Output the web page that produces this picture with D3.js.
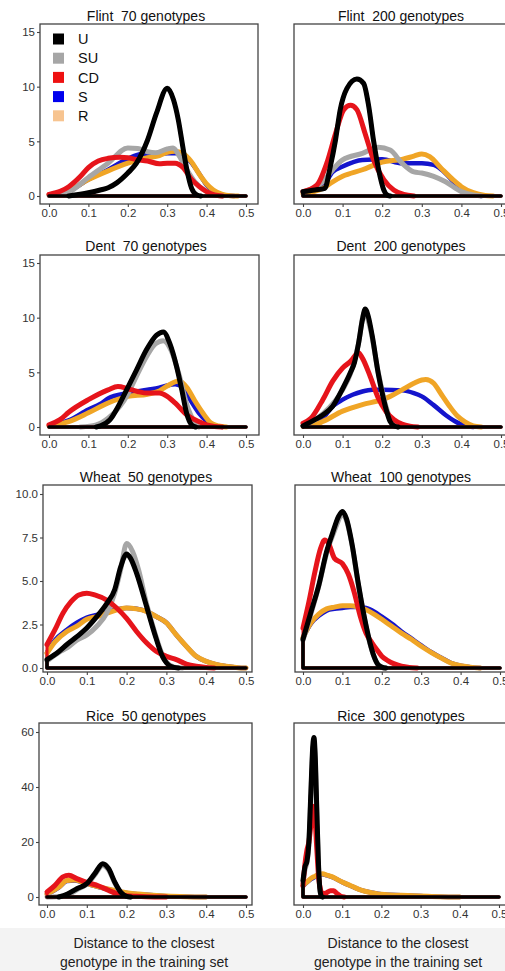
<!DOCTYPE html>
<html>
<head>
<meta charset="utf-8">
<script src="https://cdn.jsdelivr.net/npm/d3@7"></script>
<style>
  body { margin: 0; background: #fff; }
  svg { display: block; font-family: "Liberation Sans", Arial, sans-serif; }
</style>
</head>
<body>
<svg id="chart" width="505" height="971"></svg>
<script>
// ---- series and tick definitions ----
const seriesKeys = ["U", "SU", "CD", "S", "R"];
const drawOrder = ["S", "R", "SU", "CD", "U"];
const lineColors = { U: "#000000", SU: "#a6a6a6", CD: "#e6141b", S: "#1414cc", R: "#f0a526" };
const legendColors = { U: "#000000", SU: "#a6a6a6", CD: "#ee1111", S: "#0000ee", R: "#f7c490" };

const xTicks = [0, 0.1, 0.2, 0.3, 0.4, 0.5];
const yTicksMaize = [0, 5, 10, 15];
const yTicksWheat = [0, 2.5, 5, 7.5, 10];
const yTicksRice = [0, 20, 40, 60];

const panelTitles = [
  "Flint  70 genotypes", "Flint  200 genotypes",
  "Dent  70 genotypes", "Dent  200 genotypes",
  "Wheat  50 genotypes", "Wheat  100 genotypes",
  "Rice  50 genotypes", "Rice  300 genotypes"
];
const axisTitleLines = ["Distance to the closest", "genotype in the training set"];

// ---- density curves: [distance, density] ----
// Flint, 70 genotypes
const flint70_U = [[0,0],[0.05,0],[0.1,0.3],[0.13,0.55],[0.15,0.75],[0.172,1.2],[0.2,2.1],[0.222,3.0],[0.25,5.1],[0.273,7.6],[0.3,9.85],[0.316,8.8],[0.328,7.0],[0.341,4.2],[0.35,2.4],[0.362,0.7],[0.375,0.1],[0.385,0],[0.5,0]];
const flint70_SU = [[0,0.05],[0.03,0.15],[0.05,0.35],[0.1,1.7],[0.15,3.0],[0.2,4.4],[0.225,4.35],[0.25,4.05],[0.27,3.95],[0.3,4.3],[0.315,4.4],[0.33,3.7],[0.35,2.4],[0.37,1.3],[0.4,0.4],[0.42,0.08],[0.44,0],[0.5,0]];
const flint70_CD = [[0,0.15],[0.03,0.45],[0.05,0.85],[0.08,1.8],[0.1,2.6],[0.125,3.2],[0.15,3.45],[0.18,3.55],[0.2,3.5],[0.22,3.35],[0.25,3.2],[0.28,2.95],[0.3,3.0],[0.32,3.0],[0.34,2.6],[0.36,1.6],[0.38,0.9],[0.4,0.4],[0.42,0.1],[0.44,0],[0.5,0]];
const flint70_S = [[0,0.1],[0.05,0.45],[0.1,1.5],[0.15,2.4],[0.2,3.4],[0.235,3.85],[0.26,3.8],[0.3,3.9],[0.33,3.9],[0.36,3.1],[0.38,2.1],[0.4,1.0],[0.42,0.35],[0.45,0.05],[0.47,0],[0.5,0]];
const flint70_R = [[0,0.1],[0.05,0.5],[0.1,1.5],[0.15,2.3],[0.2,3.0],[0.25,3.5],[0.28,3.7],[0.3,4.0],[0.32,4.1],[0.34,3.9],[0.36,3.2],[0.385,1.8],[0.4,1.1],[0.417,0.55],[0.44,0.15],[0.46,0.03],[0.48,0],[0.5,0]];

// Flint, 200 genotypes
const flint200_U = [[0,0.4],[0.03,0.55],[0.055,0.7],[0.069,2.7],[0.082,5.1],[0.094,7.9],[0.111,9.85],[0.136,10.7],[0.153,10.3],[0.166,8.2],[0.178,5.1],[0.191,2.4],[0.204,0.55],[0.212,0.1],[0.22,0],[0.5,0]];
const flint200_SU = [[0,0.4],[0.05,1.3],[0.075,2.4],[0.1,3.3],[0.15,3.9],[0.19,4.45],[0.22,4.2],[0.25,3.0],[0.28,2.2],[0.3,2.1],[0.33,1.8],[0.36,1.3],[0.4,0.4],[0.43,0.1],[0.45,0],[0.5,0]];
const flint200_CD = [[0,0.4],[0.035,1.0],[0.06,3.0],[0.082,5.7],[0.103,7.9],[0.12,8.3],[0.136,7.9],[0.157,5.7],[0.178,3.3],[0.204,1.5],[0.229,0.55],[0.254,0.15],[0.28,0],[0.5,0]];
const flint200_S = [[0,0.3],[0.05,0.9],[0.075,2.2],[0.1,2.7],[0.15,3.3],[0.2,3.35],[0.25,3.0],[0.3,3.0],[0.33,2.85],[0.35,2.4],[0.38,1.3],[0.4,0.55],[0.43,0.15],[0.45,0],[0.5,0]];
const flint200_R = [[0,0.2],[0.05,0.7],[0.075,1.3],[0.1,1.8],[0.15,2.4],[0.2,3.1],[0.25,3.35],[0.28,3.65],[0.3,3.85],[0.32,3.6],[0.35,2.5],[0.38,1.45],[0.4,0.85],[0.43,0.3],[0.46,0.05],[0.48,0],[0.5,0]];

// Dent, 70 genotypes
const dent70_U = [[0,0],[0.12,0],[0.13,0.1],[0.155,0.67],[0.176,1.9],[0.197,3.4],[0.222,5.2],[0.248,7.1],[0.273,8.4],[0.29,8.7],[0.307,7.6],[0.324,5.5],[0.337,3.4],[0.349,1.3],[0.362,0.2],[0.372,0],[0.5,0]];
const dent70_SU = [[0,0],[0.08,0],[0.12,0.2],[0.15,0.8],[0.18,1.9],[0.2,3.0],[0.22,4.5],[0.25,6.6],[0.27,7.6],[0.29,7.9],[0.31,7.0],[0.33,4.8],[0.35,2.0],[0.37,0.4],[0.38,0],[0.5,0]];
const dent70_CD = [[0,0.2],[0.028,0.67],[0.05,1.35],[0.1,2.5],[0.15,3.4],[0.175,3.7],[0.2,3.5],[0.225,3.25],[0.25,3.1],[0.28,3.1],[0.3,2.8],[0.32,2.2],[0.35,1.1],[0.38,0.5],[0.4,0.2],[0.42,0.05],[0.44,0],[0.5,0]];
const dent70_S = [[0,0.1],[0.05,0.6],[0.1,1.6],[0.13,2.1],[0.15,2.6],[0.2,3.1],[0.25,3.4],[0.28,3.6],[0.3,3.8],[0.32,3.9],[0.34,3.6],[0.36,2.4],[0.38,1.3],[0.4,0.55],[0.42,0.15],[0.44,0],[0.5,0]];
const dent70_R = [[0,0.1],[0.05,0.5],[0.1,1.3],[0.15,2.2],[0.2,2.8],[0.25,3.0],[0.28,3.3],[0.3,3.75],[0.33,4.2],[0.35,3.6],[0.37,2.4],[0.39,1.3],[0.41,0.4],[0.43,0.1],[0.45,0],[0.5,0]];

// Dent, 200 genotypes
const dent200_U = [[0,0.1],[0.03,0.67],[0.05,1.1],[0.075,1.9],[0.1,3.5],[0.12,5.0],[0.13,5.9],[0.14,7.6],[0.15,9.8],[0.157,10.8],[0.165,10.1],[0.175,8.3],[0.19,4.9],[0.2,3.1],[0.21,1.6],[0.22,0.5],[0.23,0.1],[0.24,0],[0.5,0]];
const dent200_SU = [[0,0.1],[0.05,1.2],[0.1,3.4],[0.12,4.9],[0.14,7.6],[0.155,10.5],[0.17,9.0],[0.19,5.0],[0.21,1.8],[0.225,0.4],[0.24,0],[0.5,0]];
const dent200_CD = [[0,0.35],[0.02,0.8],[0.05,2.5],[0.075,4.2],[0.1,5.4],[0.12,6.0],[0.14,6.8],[0.15,6.3],[0.17,4.6],[0.19,2.65],[0.21,1.4],[0.23,0.67],[0.25,0.27],[0.27,0.08],[0.29,0],[0.5,0]];
const dent200_S = [[0,0.1],[0.03,0.4],[0.05,0.8],[0.075,1.9],[0.1,2.5],[0.125,2.95],[0.15,3.25],[0.175,3.4],[0.2,3.4],[0.25,3.35],[0.28,3.1],[0.3,2.8],[0.33,2.0],[0.36,1.1],[0.39,0.4],[0.41,0.1],[0.43,0],[0.5,0]];
const dent200_R = [[0,0.05],[0.03,0.2],[0.05,0.5],[0.1,1.45],[0.15,2.05],[0.2,2.5],[0.22,2.8],[0.25,3.4],[0.28,4.0],[0.3,4.3],[0.31,4.35],[0.33,4.0],[0.35,2.95],[0.37,1.9],[0.39,1.0],[0.41,0.45],[0.43,0.1],[0.45,0],[0.5,0]];

// Wheat, 50 genotypes
const wheat50_U = [[0,0.48],[0.03,0.95],[0.05,1.35],[0.075,1.8],[0.1,2.3],[0.125,2.95],[0.15,3.7],[0.17,4.5],[0.185,5.8],[0.2,6.55],[0.21,6.3],[0.225,5.45],[0.25,3.55],[0.27,2.0],[0.29,0.67],[0.3,0.3],[0.31,0.1],[0.33,0],[0.5,0]];
const wheat50_SU = [[0,0.4],[0.03,0.9],[0.05,1.15],[0.075,1.6],[0.1,1.9],[0.125,2.4],[0.15,3.15],[0.17,4.3],[0.185,5.65],[0.2,7.15],[0.215,6.7],[0.23,5.65],[0.25,3.7],[0.27,2.1],[0.29,0.76],[0.3,0.35],[0.32,0.05],[0.34,0],[0.5,0]];
const wheat50_CD = [[0,1.35],[0.02,2.2],[0.04,3.15],[0.06,3.8],[0.08,4.2],[0.1,4.3],[0.12,4.2],[0.15,3.9],[0.175,3.45],[0.2,2.85],[0.225,2.1],[0.25,1.45],[0.275,0.95],[0.3,0.67],[0.325,0.48],[0.35,0.23],[0.375,0.1],[0.4,0.03],[0.42,0],[0.5,0]];
const wheat50_S = [[0,0.9],[0.02,1.6],[0.05,2.2],[0.075,2.6],[0.1,2.9],[0.125,3.05],[0.15,3.2],[0.2,3.45],[0.225,3.4],[0.25,3.25],[0.275,2.95],[0.3,2.6],[0.325,1.9],[0.35,1.25],[0.375,0.67],[0.4,0.38],[0.425,0.2],[0.45,0.1],[0.48,0.02],[0.5,0]];
const wheat50_R = [[0,0.85],[0.02,1.5],[0.05,2.1],[0.075,2.4],[0.1,2.8],[0.125,2.95],[0.15,3.15],[0.2,3.45],[0.225,3.4],[0.25,3.25],[0.275,2.95],[0.3,2.6],[0.325,1.9],[0.35,1.25],[0.375,0.67],[0.4,0.38],[0.425,0.2],[0.45,0.1],[0.48,0.02],[0.5,0]];

// Wheat, 100 genotypes
const wheat100_U = [[0,1.65],[0.02,3.2],[0.04,4.75],[0.06,6.7],[0.075,7.75],[0.09,8.7],[0.1,9.0],[0.11,8.6],[0.125,7.05],[0.14,4.9],[0.155,3.0],[0.17,1.45],[0.18,0.68],[0.19,0.2],[0.2,0.05],[0.21,0],[0.5,0]];
const wheat100_SU = [[0,1.6],[0.02,3.1],[0.04,4.7],[0.06,6.6],[0.08,7.9],[0.1,8.8],[0.11,8.5],[0.125,7.0],[0.14,4.85],[0.155,2.95],[0.17,1.4],[0.185,0.4],[0.2,0.05],[0.21,0],[0.5,0]];
const wheat100_CD = [[0,2.3],[0.015,3.8],[0.03,5.5],[0.045,6.9],[0.055,7.35],[0.065,7.15],[0.08,6.3],[0.1,6.0],[0.115,5.4],[0.13,4.35],[0.145,3.0],[0.16,2.0],[0.175,1.45],[0.19,0.97],[0.2,0.68],[0.215,0.43],[0.23,0.25],[0.25,0.1],[0.27,0.03],[0.29,0],[0.5,0]];
const wheat100_S = [[0,1.75],[0.02,2.55],[0.04,3.0],[0.06,3.3],[0.08,3.4],[0.1,3.45],[0.12,3.5],[0.14,3.5],[0.16,3.45],[0.18,3.25],[0.2,2.95],[0.225,2.55],[0.25,2.1],[0.275,1.7],[0.3,1.3],[0.325,0.92],[0.35,0.6],[0.375,0.3],[0.4,0.13],[0.425,0.05],[0.45,0],[0.5,0]];
const wheat100_R = [[0,1.75],[0.02,2.6],[0.04,3.1],[0.06,3.4],[0.08,3.5],[0.1,3.58],[0.12,3.58],[0.14,3.5],[0.16,3.35],[0.18,3.1],[0.2,2.8],[0.225,2.4],[0.25,2.0],[0.275,1.65],[0.3,1.25],[0.325,0.9],[0.35,0.58],[0.375,0.29],[0.4,0.13],[0.425,0.05],[0.45,0],[0.5,0]];

// Rice, 50 genotypes
const rice50_U = [[0,0],[0.03,0],[0.05,1.0],[0.075,3.0],[0.1,4.85],[0.12,8.5],[0.14,12.1],[0.155,10.3],[0.17,5.5],[0.185,1.8],[0.2,0.25],[0.21,0],[0.5,0]];
const rice50_SU = [[0,0],[0.04,0.3],[0.06,1.3],[0.08,3.1],[0.1,4.6],[0.12,8.0],[0.14,11.5],[0.155,9.8],[0.17,5.2],[0.185,1.7],[0.2,0.2],[0.21,0],[0.5,0]];
const rice50_CD = [[0,1.8],[0.02,4.25],[0.04,7.3],[0.055,7.9],[0.075,6.7],[0.1,5.3],[0.13,4.0],[0.155,2.4],[0.175,1.2],[0.2,0.5],[0.225,0.25],[0.25,0.1],[0.3,0],[0.5,0]];
const rice50_S = [[0,1.0],[0.03,3.5],[0.05,5.8],[0.07,6.0],[0.1,4.8],[0.15,2.9],[0.2,1.5],[0.25,0.8],[0.3,0.3],[0.35,0.08],[0.4,0],[0.5,0]];
const rice50_R = [[0,1.0],[0.03,3.6],[0.05,6.0],[0.07,6.2],[0.1,4.85],[0.15,3.0],[0.2,1.6],[0.25,0.85],[0.3,0.35],[0.35,0.1],[0.4,0],[0.5,0]];

// Rice, 300 genotypes
const rice300_U = [[0,6],[0.005,11],[0.01,13],[0.015,20],[0.02,38],[0.025,55],[0.028,58],[0.031,52],[0.035,33],[0.039,14],[0.043,3],[0.047,0.3],[0.05,0],[0.5,0]];
const rice300_SU = [[0,5],[0.005,10],[0.01,12.5],[0.015,19],[0.02,36],[0.025,53],[0.028,56],[0.031,50],[0.035,31],[0.039,13],[0.043,2.5],[0.047,0.2],[0.05,0],[0.5,0]];
const rice300_CD = [[0,4],[0.005,12],[0.01,17],[0.015,20],[0.02,26],[0.025,33],[0.03,30],[0.035,18],[0.04,7],[0.045,2.5],[0.05,1.2],[0.06,1.5],[0.07,2.3],[0.078,2.3],[0.085,1.5],[0.095,0.4],[0.105,0],[0.5,0]];
const rice300_S = [[0,4.0],[0.01,5.3],[0.02,6.5],[0.03,7.3],[0.04,8.0],[0.05,8.3],[0.06,7.9],[0.075,7.2],[0.1,5.4],[0.125,3.85],[0.15,2.4],[0.175,1.6],[0.2,1.0],[0.25,0.65],[0.3,0.4],[0.35,0.12],[0.4,0],[0.5,0]];
const rice300_R = [[0,4.2],[0.01,5.45],[0.02,6.7],[0.03,7.5],[0.04,8.2],[0.05,8.5],[0.06,8.0],[0.075,7.3],[0.1,5.45],[0.125,3.9],[0.15,2.4],[0.175,1.6],[0.2,0.97],[0.25,0.6],[0.3,0.36],[0.35,0.1],[0.4,0],[0.5,0]];

// ---- layout ----
const rows = [
  { frameT: 24,  frameB: 204, y0: 196, yTop: 32,  yMax: 15, ticks: yTicksMaize, fmt: d3.format("d"),   titleY: 21,
    cols: [{ frameL: 40, frameR: 258, x0: 49, x5: 246 }, { frameL: 294, frameR: 512, x0: 303, x5: 501 }] },
  { frameT: 255, frameB: 435, y0: 427, yTop: 263, yMax: 15, ticks: yTicksMaize, fmt: d3.format("d"),   titleY: 251,
    cols: [{ frameL: 40, frameR: 259, x0: 49, x5: 246 }, { frameL: 294, frameR: 512, x0: 303, x5: 501 }] },
  { frameT: 485, frameB: 672, y0: 668, yTop: 494, yMax: 10, ticks: yTicksWheat, fmt: d3.format(".1f"), titleY: 482,
    cols: [{ frameL: 43, frameR: 252, x0: 47, x5: 246 }, { frameL: 295, frameR: 512, x0: 303, x5: 500 }] },
  { frameT: 723, frameB: 905, y0: 897, yTop: 732, yMax: 60, ticks: yTicksRice,  fmt: d3.format("d"),   titleY: 721,
    cols: [{ frameL: 39, frameR: 252, x0: 47, x5: 246 }, { frameL: 294, frameR: 512, x0: 303, x5: 499 }] }
];
const titleX = [146, 401];

const panels = [
  { title: panelTitles[0], row: 0, col: 0, legend: true, series: { U: flint70_U, SU: flint70_SU, CD: flint70_CD, S: flint70_S, R: flint70_R } },
  { title: panelTitles[1], row: 0, col: 1, series: { U: flint200_U, SU: flint200_SU, CD: flint200_CD, S: flint200_S, R: flint200_R } },
  { title: panelTitles[2], row: 1, col: 0, series: { U: dent70_U, SU: dent70_SU, CD: dent70_CD, S: dent70_S, R: dent70_R } },
  { title: panelTitles[3], row: 1, col: 1, series: { U: dent200_U, SU: dent200_SU, CD: dent200_CD, S: dent200_S, R: dent200_R } },
  { title: panelTitles[4], row: 2, col: 0, series: { U: wheat50_U, SU: wheat50_SU, CD: wheat50_CD, S: wheat50_S, R: wheat50_R } },
  { title: panelTitles[5], row: 2, col: 1, series: { U: wheat100_U, SU: wheat100_SU, CD: wheat100_CD, S: wheat100_S, R: wheat100_R } },
  { title: panelTitles[6], row: 3, col: 0, series: { U: rice50_U, SU: rice50_SU, CD: rice50_CD, S: rice50_S, R: rice50_R } },
  { title: panelTitles[7], row: 3, col: 1, series: { U: rice300_U, SU: rice300_SU, CD: rice300_CD, S: rice300_S, R: rice300_R } }
];

const FONT = '"Liberation Sans", Arial, sans-serif';
const svg = d3.select("#chart");

svg.append("rect").attr("x", 0).attr("y", 0).attr("width", 505).attr("height", 971).attr("fill", "#ffffff");
svg.append("rect").attr("x", 0).attr("y", 928).attr("width", 505).attr("height", 43).attr("fill", "#f3f3f3");

const defs = svg.append("defs");
defs.append("clipPath").attr("id", "clipRightLabels")
  .append("rect").attr("x", 273).attr("y", 0).attr("width", 240).attr("height", 971);
defs.append("clipPath").attr("id", "clipWheatX")
  .append("rect").attr("x", 0).attr("y", 0).attr("width", 505).attr("height", 682);

// keep the curve part of a density (drop flat zero runs at both ends)
function curvePart(pts) {
  let first = 0;
  while (first < pts.length - 1 && pts[first + 1][1] === 0) first++;
  let last = pts.length - 1;
  while (last > 0 && pts[last - 1][1] === 0) last--;
  return pts.slice(first, last + 1);
}

panels.forEach(p => {
  const r = rows[p.row];
  const c = r.cols[p.col];
  const g = svg.append("g");

  const x = d3.scaleLinear().domain([0, 0.5]).range([c.x0, c.x5]);
  const y = d3.scaleLinear().domain([0, r.yMax]).range([r.y0, r.yTop]);

  // panel border
  g.append("rect")
    .attr("x", c.frameL).attr("y", r.frameT)
    .attr("width", c.frameR - c.frameL).attr("height", r.frameB - r.frameT)
    .attr("fill", "none").attr("stroke", "#444").attr("stroke-width", 1.3);

  // axes
  const gx = g.append("g").attr("transform", `translate(0,${r.frameB})`)
    .call(d3.axisBottom(x).tickValues(xTicks).tickFormat(d3.format(".1f")).tickSize(3).tickPadding(2));
  const gy = g.append("g").attr("transform", `translate(${c.frameL},0)`)
    .call(d3.axisLeft(y).tickValues(r.ticks).tickFormat(r.fmt).tickSize(3).tickPadding(2));
  [gx, gy].forEach(a => {
    a.select(".domain").remove();
    a.attr("font-family", FONT).attr("font-size", 11.5);
    a.selectAll(".tick line").attr("stroke", "#444").attr("stroke-width", 1.1);
    a.selectAll(".tick text").attr("fill", "#333");
  });
  if (p.col === 1) gy.attr("clip-path", "url(#clipRightLabels)");
  if (p.row === 2) gx.attr("clip-path", "url(#clipWheatX)");

  // density outlines and curves
  const area = d3.area().x(d => x(d[0])).y0(y(0)).y1(d => y(d[1])).curve(d3.curveMonotoneX);
  const line = d3.line().x(d => x(d[0])).y(d => y(d[1])).curve(d3.curveMonotoneX);
  drawOrder.forEach(k => {
    const pts = p.series[k];
    g.append("path").attr("d", area(pts))
      .attr("fill", "none").attr("stroke", lineColors[k]).attr("stroke-width", k === "U" ? 3.6 : 3)
      .attr("stroke-linejoin", "round");
    g.append("path").attr("d", line(curvePart(pts)))
      .attr("fill", "none").attr("stroke", lineColors[k])
      .attr("stroke-width", k === "S" ? 4.5 : 5)
      .attr("stroke-linejoin", "round").attr("stroke-linecap", "round");
  });

  // title
  g.append("text").attr("x", titleX[p.col]).attr("y", r.titleY)
    .attr("text-anchor", "middle").attr("font-family", FONT).attr("font-size", 14)
    .attr("fill", "#111").style("white-space", "pre").text(p.title);

  // legend
  if (p.legend) {
    const lg = g.append("g");
    seriesKeys.forEach((k, i) => {
      const ty = 33.5 + i * 19.2;
      lg.append("rect").attr("x", 53).attr("y", ty).attr("width", 11).attr("height", 11)
        .attr("fill", legendColors[k]);
      lg.append("text").attr("x", 78).attr("y", ty + 5.5).attr("dy", "0.36em")
        .attr("font-family", FONT).attr("font-size", 14.5).attr("fill", "#111").text(k);
    });
  }
});

// shared x-axis titles under each column
[144, 398].forEach(cx => {
  axisTitleLines.forEach((t, i) => {
    svg.append("text").attr("x", cx).attr("y", 948 + i * 19)
      .attr("text-anchor", "middle").attr("font-family", FONT).attr("font-size", 14)
      .attr("fill", "#222").text(t);
  });
});
</script>
</body>
</html>
